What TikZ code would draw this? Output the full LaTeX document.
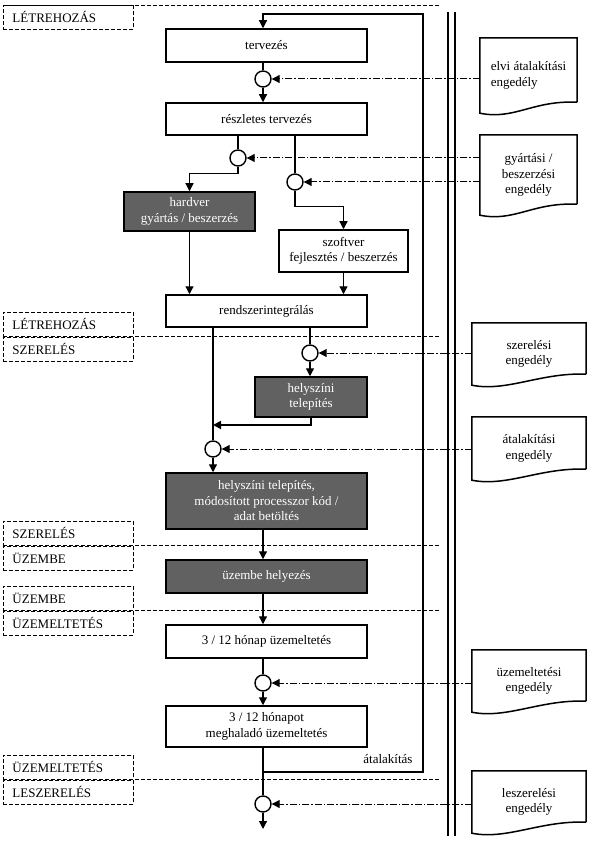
\documentclass[tikz,border=0pt]{standalone}
\usepackage{fontspec}
\setmainfont{Liberation Serif}
\usetikzlibrary{arrows.meta}
\usetikzlibrary{positioning}
\usetikzlibrary{calc}

\tikzset{
  box/.style={draw, line width=1.5pt, fill=white, minimum width=201pt, align=center, inner sep=2pt},
  darkbox/.style={box, fill=black!62, text=white},
  valve/.style={circle, draw, line width=1.4pt, fill=white, minimum size=16pt, inner sep=0pt},
  doc/.style={minimum width=#1, align=center, inner sep=3pt},
  doc/.default=114pt,
  phase/.style={draw, line width=0.9pt, dash pattern=on 4pt off 2pt, anchor=north west,
    minimum width=130pt, minimum height=24pt, text width=112pt, inner xsep=9pt, align=left},
  phaseline/.style={line width=0.9pt, dash pattern=on 4pt off 2pt},
  link/.style={line width=1.2pt},
  flow/.style={line width=1.2pt, -{Triangle[length=8pt,width=8pt]}},
  permit/.style={line width=1pt, dash pattern=on 7pt off 2pt on 1.5pt off 2pt, -{Triangle[length=8pt,width=8pt]}}
}

\begin{document}
\begin{tikzpicture}[x=1pt, y=-1pt, font=\fontsize{13}{15.5}\selectfont]
\useasboundingbox (0,0) rectangle (594,842);

\node[phase] (ph1) at (3,5) {LÉTREHOZÁS};
\node[phase] (ph2a) at (3,312) {LÉTREHOZÁS};
\node[phase] (ph2b) at (ph2a.south west) {SZERELÉS};
\node[phase] (ph3a) at (3,521) {SZERELÉS};
\node[phase] (ph3b) at (ph3a.south west) {ÜZEMBE};
\node[phase] (ph4a) at (3,586) {ÜZEMBE};
\node[phase] (ph4b) at (ph4a.south west) {ÜZEMELTETÉS};
\node[phase] (ph5a) at (3,755) {ÜZEMELTETÉS};
\node[phase] (ph5b) at (ph5a.south west) {LESZERELÉS};

\draw[phaseline] (ph1.north west) -- ++(437,0);
\draw[phaseline] (ph2a.south west) -- ++(437,0);
\draw[phaseline] (ph3a.south west) -- ++(437,0);
\draw[phaseline] (ph4a.south west) -- ++(437,0);
\draw[phaseline] (ph5a.south west) -- ++(437,0);

\draw[line width=1.2pt] (448,12) -- (448,836);
\draw[line width=1.8pt] (455,12) -- (455,836);

\node[box, minimum height=33pt] (terv) at (266.5,45.5) {tervezés};
\node[valve] (c1) at (263,79) {};
\node[box, minimum height=32pt] (reszl) at (266.5,119) {részletes tervezés};
\node[valve] (c2) at (238,158) {};
\node[valve] (c3) at (295,182) {};
\node[darkbox, minimum width=131pt, minimum height=39pt] (hardver) at (189.5,211.5) {hardver\\gyártás / beszerzés};
\node[box, minimum width=129pt, minimum height=42pt] (szoftver) at (343.5,251) {szoftver\\fejlesztés / beszerzés};
\node[box, minimum height=32pt] (rendsz) at (266.5,311) {rendszerintegrálás};
\node[valve] (c4) at (310,353) {};
\node[darkbox, minimum width=112pt, minimum height=40pt] (helyt) at (311,397) {helyszíni\\telepítés};
\coordinate (join) at (213,425);
\node[valve] (c5) at (213,449) {};
\node[darkbox, minimum height=56pt] (helymod) at (266.5,501) {helyszíni telepítés,\\módosított processzor kód /\\adat betöltés};
\node[darkbox, minimum height=33pt] (uzembe) at (266.5,576.5) {üzembe helyezés};
\node[box, minimum height=33pt] (honap) at (266.5,641.5) {3 / 12 hónap üzemeltetés};
\node[valve] (c6) at (263,683) {};
\node[box, minimum height=41pt] (hon2) at (266.5,726.5) {3 / 12 hónapot\\meghaladó üzemeltetés};
\coordinate (split) at (263,772);
\node[valve] (c7) at (263,804) {};
\coordinate (out) at (263,829);

\coordinate (loopbr) at (423,772);
\coordinate (looptr) at (423,14);
\node[anchor=east] (atlab) at (416,759) {átalakítás};

\node[doc=97pt, minimum height=75pt, align=left] (elvi) at (528.5,75.5) {elvi átalakítási\\engedély};
\node[doc=97pt, minimum height=80pt] (gyart) at (528.5,175) {gyártási /\\beszerzési\\engedély};
\node[doc, minimum height=62pt] (szer) at (529,354) {szerelési\\engedély};
\node[doc, minimum height=63pt] (atal) at (529,448.5) {átalakítási\\engedély};
\node[doc, minimum height=62pt] (uzem) at (529,681) {üzemeltetési\\engedély};
\node[doc, minimum height=62pt] (lesz) at (529,802) {leszerelési\\engedély};

\foreach \d in {elvi,gyart,szer,atal,uzem,lesz}
  \draw[line width=1.5pt] ([yshift=11pt]\d.south east) -- (\d.north east) -- (\d.north west) -- (\d.south west)
    .. controls ([xshift=35pt,yshift=-7pt]\d.south west) and ([xshift=-45pt,yshift=13pt]\d.south east) .. ([yshift=11pt]\d.south east);

\draw[link] (terv.south -| c1) -- (c1);
\draw[flow] (c1) -- (reszl.north -| c1);
\draw[link] (reszl.south -| c2) -- (c2);
\draw[link] (reszl.south -| c3) -- (c3);
\draw[flow] (c2.south) -- ++(0,7) -| (hardver.north);
\draw[flow] (c3.south) -- ++(0,16) -| (szoftver.north);
\draw[flow] (hardver.south) -- (hardver.south |- rendsz.north);
\draw[flow] (szoftver.south) -- (szoftver.south |- rendsz.north);
\draw[link] (rendsz.south -| c5) -- (c5);
\draw[link] (rendsz.south -| c4) -- (c4);
\draw[flow] (c4) -- (helyt.north -| c4);
\draw[flow, line width=1.8pt] (helyt.south) |- (join);
\draw[flow] (c5) -- (helymod.north -| c5);
\draw[flow] (helymod.south -| c6) -- (uzembe.north -| c6);
\draw[flow] (uzembe.south -| c6) -- (honap.north -| c6);
\draw[link] (honap.south -| c6) -- (c6);
\draw[flow] (c6) -- (hon2.north -| c6);
\draw[link] (hon2.south -| c7) -- (c7);
\draw[flow] (c7) -- (out);
\draw[flow] (split) -- (loopbr) -- (looptr) -| (terv.north -| c1);

\draw[permit] (elvi.west |- c1) -- (c1);
\draw[permit] (gyart.west |- c2) -- (c2);
\draw[permit] (gyart.west |- c3) -- (c3);
\draw[permit] (szer.west |- c4) -- (c4);
\draw[permit] (atal.west |- c5) -- (c5);
\draw[permit] (uzem.west |- c6) -- (c6);
\draw[permit] (lesz.west |- c7) -- (c7);
\end{tikzpicture}
\end{document}
